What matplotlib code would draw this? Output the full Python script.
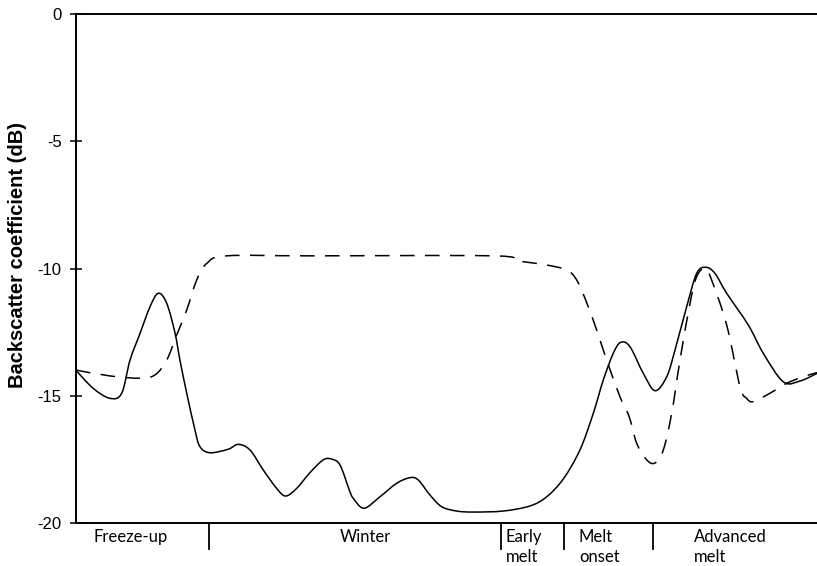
import matplotlib
matplotlib.use("Agg")
import matplotlib.pyplot as plt
from matplotlib.path import Path
from matplotlib.patches import PathPatch
from matplotlib.transforms import blended_transform_factory

plt.rcParams["font.family"] = ["Liberation Sans", "DejaVu Sans"]
plt.rcParams["lines.scale_dashes"] = False

# Seasonal time axis (percent of the annual cycle)
t_solid = [0, 2.33, 4.59, 6.17, 7.29, 8.64, 9.99, 11.11, 12.24, 13.36, 14.03,
           14.94, 16.06, 16.73, 18.08, 20.55, 21.90, 23.48, 25.28, 27.08, 28.30,
           29.78, 31.58, 33.37, 34.51, 35.63, 36.88, 37.42, 38.87, 41.02, 43.28,
           45.07, 46.19, 47.77, 49.35, 51.38, 53.62, 57.66, 61.27, 63.52, 65.76,
           68.01, 69.81, 71.16, 72.51, 73.51, 74.76, 76.56, 78.14, 79.72, 80.84,
           82.41, 83.76, 84.98, 86.23, 87.81, 90.73, 92.75, 95.45, 97.70, 100]
sigma_solid = [-14.0, -14.71, -15.10, -14.90, -13.60, -12.55, -11.50, -10.97, -11.36,
               -12.53, -13.60, -14.89, -16.35, -17.00, -17.24, -17.10, -16.91, -17.13,
               -17.92, -18.64, -18.94, -18.64, -18.02, -17.52, -17.49, -17.72, -18.70,
               -19.03, -19.42, -18.97, -18.44, -18.22, -18.31, -18.90, -19.36, -19.53,
               -19.57, -19.53, -19.33, -18.97, -18.27, -17.13, -15.69, -14.38, -13.33,
               -12.90, -13.07, -14.12, -14.80, -14.25, -13.20, -11.50, -10.19, -9.95,
               -10.19, -10.97, -12.22, -13.33, -14.45, -14.42, -14.12]

t_dashed = [0, 4.59, 8.64, 10.66, 12.24, 13.59, 14.94, 16.29, 17.64, 20.34, 31.58,
            56.27, 59.47, 63.52, 66.22, 67.57, 68.92, 70.27, 71.62, 73.41, 74.65,
            75.67, 77.02, 78.14, 79.26, 80.39, 81.51, 82.86, 83.76, 84.88, 85.78,
            87.81, 89.61, 90.51, 91.40, 93.65, 95.91, 98.15, 100]
sigma_dashed = [-13.99, -14.22, -14.31, -14.18, -13.60, -12.61, -11.63, -10.45, -9.80,
                -9.50, -9.50, -9.50, -9.69, -9.86, -10.06, -10.45, -11.34, -12.42,
                -13.60, -15.04, -15.82, -16.87, -17.52, -17.64, -17.13, -15.69, -13.60,
                -11.37, -10.32, -9.99, -10.45, -12.22, -14.64, -15.10, -15.23, -14.90,
                -14.51, -14.25, -14.09]

# Seasonal phases
phase_bounds = [17.95, 57.35, 65.86, 77.87]
phase_names = ["Freeze-up", "Winter", "Early\nmelt", "Melt\nonset", "Advanced\nmelt"]
phase_label_x = [7.35, 39.0, 58.03, 67.88, 83.4]
phase_label_ha = ["center", "center", "left", "left", "left"]

y_ticks = [0, -5, -10, -15, -20]


def smooth_path(xs, ys):
    """Catmull-Rom curve through the samples, expressed as cubic Bezier segments."""
    pts = list(zip(xs, ys))
    n = len(pts)
    verts = [pts[0]]
    codes = [Path.MOVETO]
    for i in range(n - 1):
        p0 = pts[i - 1] if i > 0 else pts[i]
        p1 = pts[i]
        p2 = pts[i + 1]
        p3 = pts[i + 2] if i + 2 < n else pts[i + 1]
        c1 = (p1[0] + (p2[0] - p0[0]) / 6.0, p1[1] + (p2[1] - p0[1]) / 6.0)
        c2 = (p2[0] - (p3[0] - p1[0]) / 6.0, p2[1] - (p3[1] - p1[1]) / 6.0)
        verts += [c1, c2, p2]
        codes += [Path.CURVE4, Path.CURVE4, Path.CURVE4]
    return Path(verts, codes)


fig = plt.figure(figsize=(8.17, 5.66), dpi=100)
ax = fig.add_axes([0.093, 0.076, 0.907, 0.899])

ax.add_patch(PathPatch(smooth_path(t_solid, sigma_solid), fill=False,
                       edgecolor="black", lw=1.1, joinstyle="round"))
ax.add_patch(PathPatch(smooth_path(t_dashed, sigma_dashed), fill=False,
                       edgecolor="black", lw=1.1, linestyle=(0, (10.5, 7.5)),
                       capstyle="butt"))

ax.set_xlim(0, 100)
ax.set_ylim(-20, 0)
ax.set_xticks([])
ax.set_yticks(y_ticks)
ax.set_yticklabels([str(v) for v in y_ticks])
ax.tick_params(axis="y", direction="inout", length=8.5, width=1.1, pad=6,
               labelsize=12)

for side in ["left", "top", "bottom"]:
    ax.spines[side].set_linewidth(1.4)
ax.spines["right"].set_visible(False)

ax.set_ylabel("Backscatter coefficient (dB)", fontsize=14.5, fontweight="bold")
ax.yaxis.set_label_coords(-0.066, 0.527)

trans = blended_transform_factory(ax.transData, ax.transAxes)
for xb in phase_bounds:
    ax.plot([xb, xb], [0, -0.051], transform=trans, color="black", lw=1.3,
            clip_on=False)

for name, xl, ha in zip(phase_names, phase_label_x, phase_label_ha):
    ax.text(xl, -0.012, name, transform=trans, ha=ha, va="top", fontsize=12,
            family=["Lato", "DejaVu Sans"], linespacing=1.3)

fig.savefig("out.png", dpi=100)
